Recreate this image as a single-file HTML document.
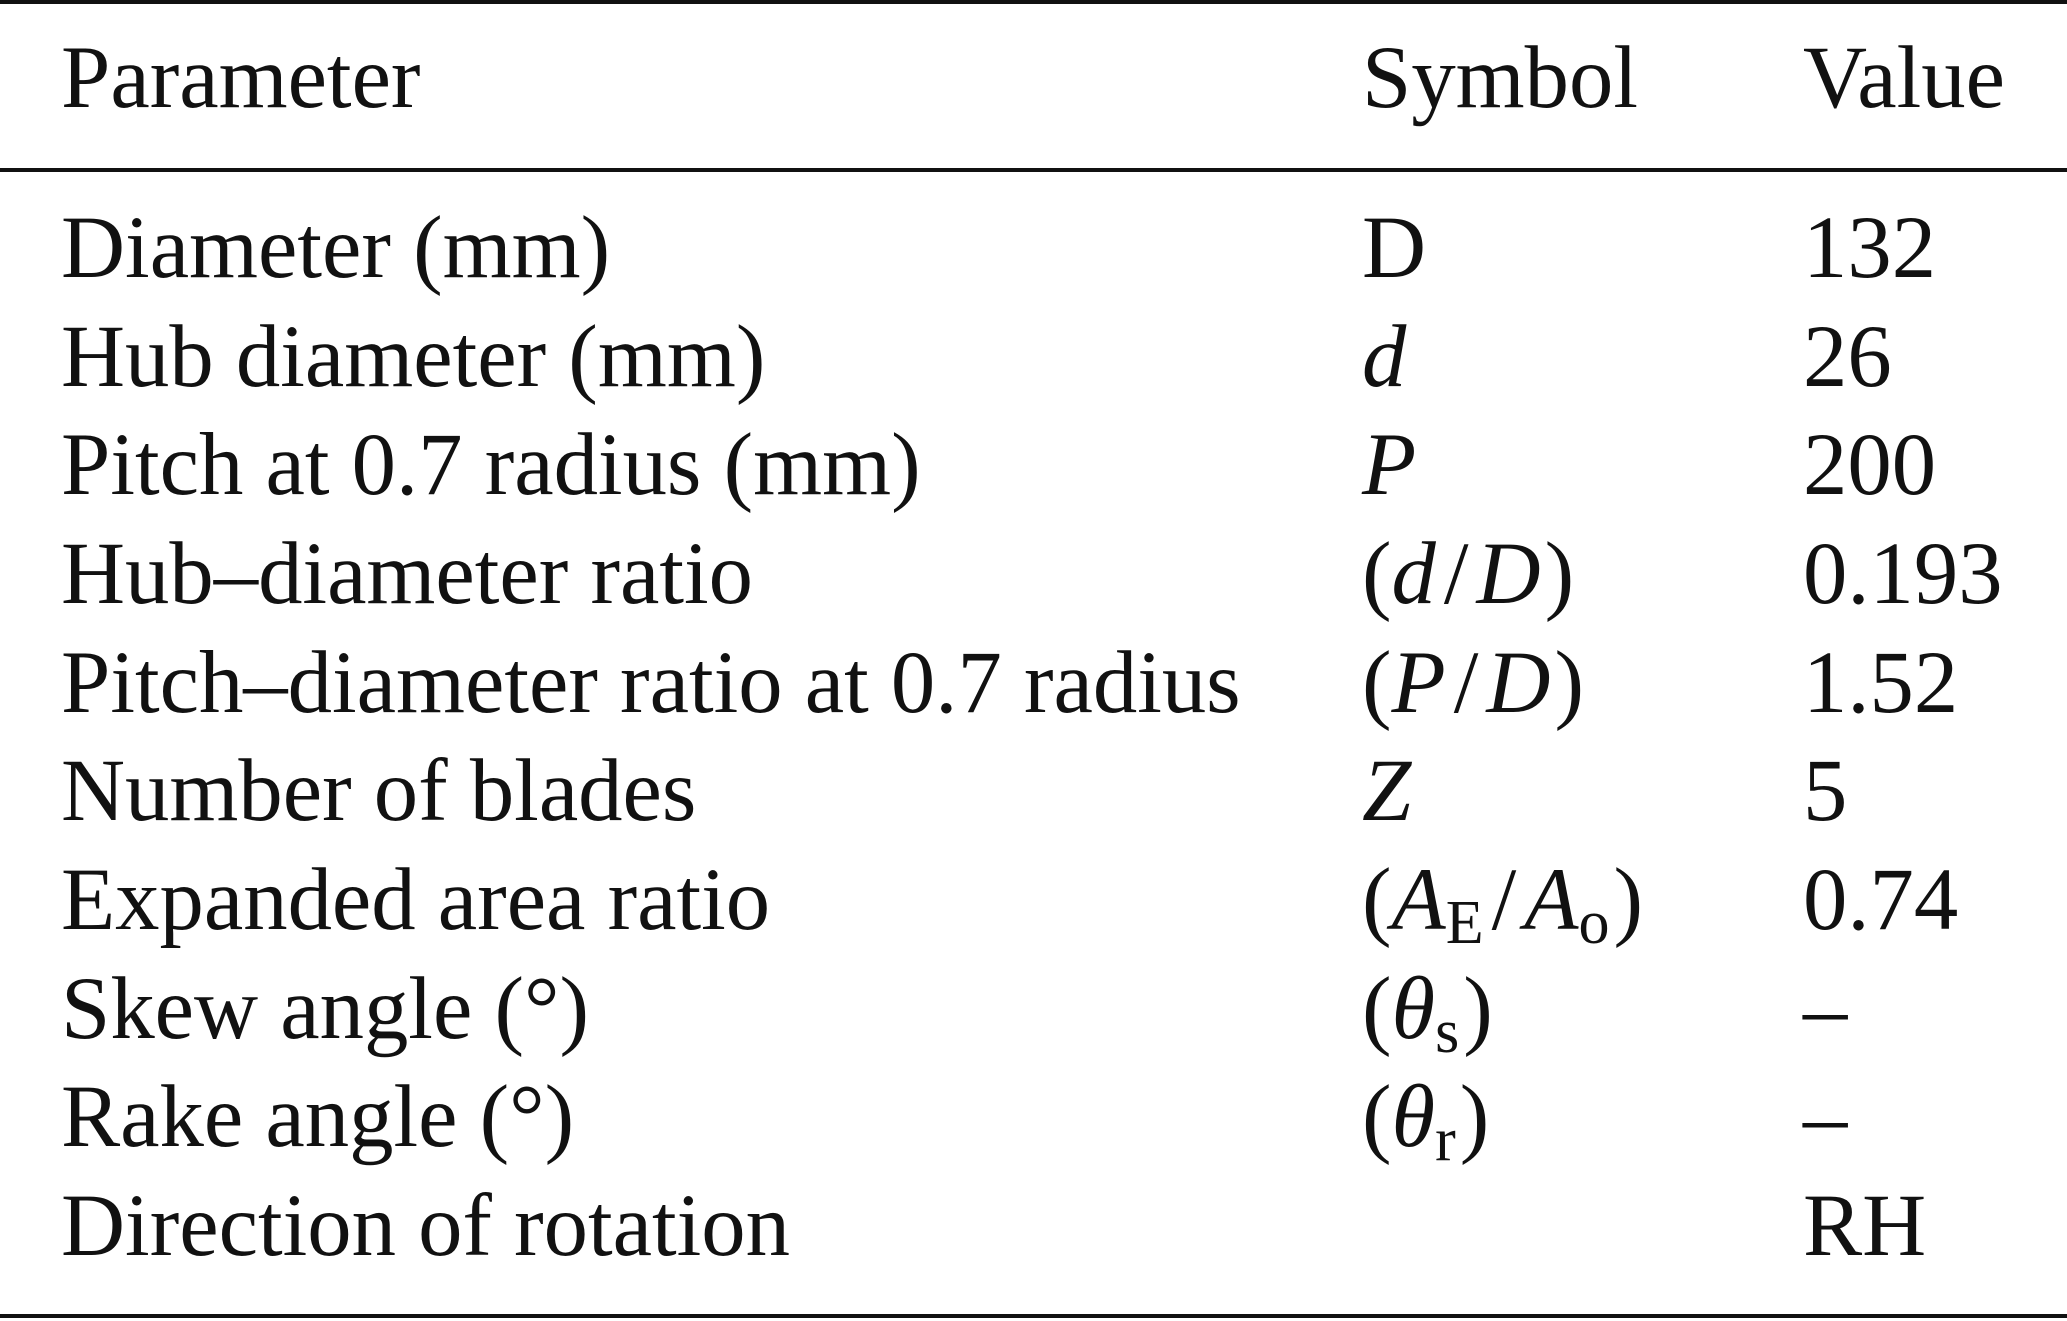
<!DOCTYPE html>
<html><head><meta charset="utf-8"><style>
html,body{margin:0;padding:0;background:#fff;}
svg{display:block;}
text{font-family:"Liberation Serif","DejaVu Serif",serif;font-size:88.7px;fill:#111;}
.i{font-style:italic;}
</style></head><body>
<svg width="2067" height="1321" viewBox="0 0 2067 1321" xmlns="http://www.w3.org/2000/svg">
<rect x="0" y="0" width="2067" height="4" fill="#111"/>
<rect x="0" y="168" width="2067" height="4" fill="#111"/>
<rect x="0" y="1314" width="2067" height="4" fill="#111"/>
<text x="61" y="107">Parameter</text>
<text x="1362" y="107">Symbol</text>
<text x="1803" y="107">Value</text>

<text x="61" y="277">Diameter (mm)</text>
<text x="1362" y="277">D</text>
<text x="1803" y="277">132</text>

<text x="61" y="386">Hub diameter (mm)</text>
<text x="1362" y="386" class="i">d</text>
<text x="1803" y="386">26</text>

<text x="61" y="494">Pitch at 0.7 radius (mm)</text>
<text x="1362" y="494" class="i">P</text>
<text x="1803" y="494">200</text>

<text x="61" y="603">Hub–diameter ratio</text>
<text x="1362" y="603">(<tspan class="i">d</tspan><tspan dx="8">/</tspan><tspan class="i" dx="8">D</tspan><tspan dx="4">)</tspan></text>
<text x="1803" y="603">0.193</text>

<text x="61" y="712">Pitch–diameter ratio at 0.7 radius</text>
<text x="1362" y="712">(<tspan class="i">P</tspan><tspan dx="8">/</tspan><tspan class="i" dx="8">D</tspan><tspan dx="4">)</tspan></text>
<text x="1803" y="712">1.52</text>

<text x="61" y="820">Number of blades</text>
<text x="1362" y="820" class="i">Z</text>
<text x="1803" y="820">5</text>

<text x="61" y="929">Expanded area ratio</text>
<text x="1362" y="929">(<tspan class="i">A</tspan><tspan font-size="62" dy="14">E</tspan><tspan dy="-14" dx="8">/</tspan><tspan class="i" dx="8">A</tspan><tspan font-size="62" dy="14">o</tspan><tspan dy="-14" dx="4">)</tspan></text>
<text x="1803" y="929">0.74</text>

<text x="61" y="1038">Skew angle (°)</text>
<text x="1362" y="1038">(<tspan class="i">θ</tspan><tspan font-size="62" dy="14">s</tspan><tspan dy="-14" dx="4">)</tspan></text>
<text x="1803" y="1038">–</text>

<text x="61" y="1146">Rake angle (°)</text>
<text x="1362" y="1146">(<tspan class="i">θ</tspan><tspan font-size="62" dy="14">r</tspan><tspan dy="-14" dx="4">)</tspan></text>
<text x="1803" y="1146">–</text>

<text x="61" y="1255">Direction of rotation</text>
<text x="1803" y="1255">RH</text>
</svg>
</body></html>
